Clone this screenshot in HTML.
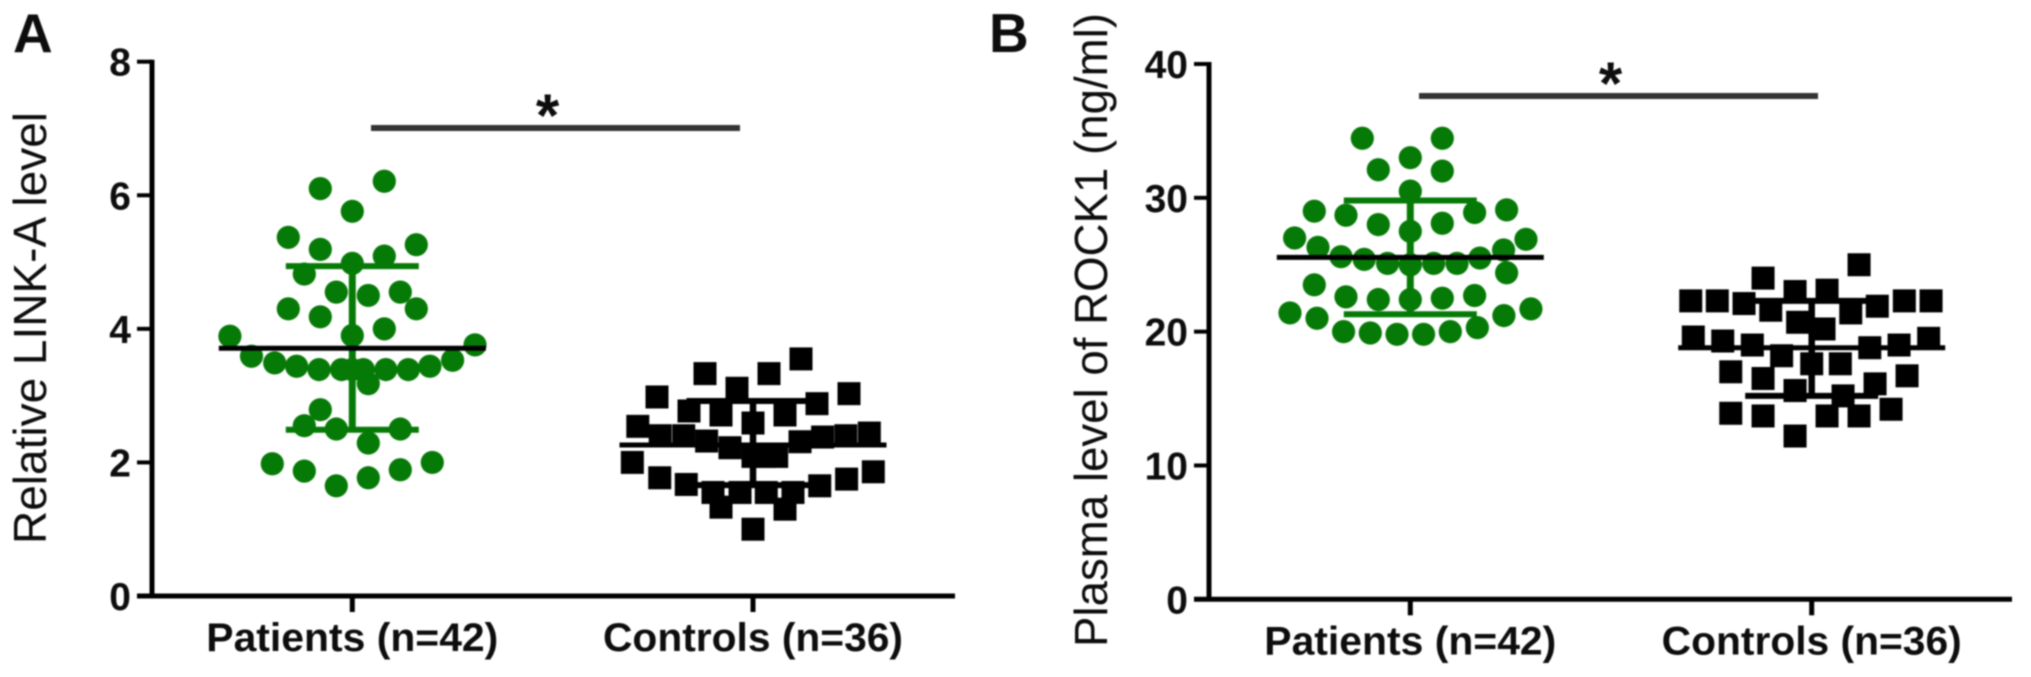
<!DOCTYPE html>
<html lang="en">
<head>
<meta charset="utf-8">
<title>LINK-A and ROCK1 levels in patients and controls</title>
<style>
html,body{margin:0;padding:0;background:#fff;width:2031px;height:677px;overflow:hidden}
svg{display:block;filter:blur(0.7px)}
text{font-family:"Liberation Sans",sans-serif;fill:#0d0d0d}
</style>
</head>
<body>
<svg id="figure" xmlns="http://www.w3.org/2000/svg" width="2031" height="677" viewBox="0 0 2031 677">
<rect x="0" y="0" width="2031" height="677" fill="#fff"/>
</svg>
<script>
// ---- Panel A data ----
const categoriesA = ['Patients (n=42)', 'Controls (n=36)'];
const ticksA = [0, 2, 4, 6, 8];
const patientsValuesA = [6.10,6.21,5.76,5.37,5.26,5.19,5.09,4.98,4.82,4.55,4.50,4.55,4.30,4.30,4.18,4.00,3.90,3.89,3.76,3.59,3.49,3.44,3.39,3.39,3.39,3.39,3.39,3.39,3.44,3.53,3.18,2.79,2.55,2.50,2.50,2.29,1.98,1.87,1.65,1.77,1.89,2.00];
const patientsSwarmA = [-2,2,0,-4,4,-2,2,0,-3,-1,1,3,-4,4,-2,2,0,-7.65,7.67,-6.3,-4.85,-3.48,-2.08,-0.67,0,0.69,2.1,3.5,4.85,6.27,1,-2,-3,-1,3,1,-5,-3,-1,1,3,5];
const controlsValuesA = [3.55,3.33,3.33,3.11,3.03,2.98,2.88,2.77,2.71,2.71,2.59,2.54,2.40,2.40,2.32,2.22,2.44,2.40,2.38,2.31,2.09,2.09,2.09,2.00,1.77,1.67,1.55,1.55,1.55,1.55,1.65,1.75,1.86,1.33,1.30,1.00];
const controlsSwarmA = [3,-3,1,-1,6,-6,4,-4,-2,2,0,-7.2,-5.8,-4.33,-2.9,-1.44,7.27,5.8,4.35,2.94,0,0.75,1.48,-7.54,-5.83,-4.17,-2.5,-0.81,0.83,2.5,4.17,5.85,7.52,-2,2,0];
const patientsSummaryA = [3.71, 4.94, 2.49]; // mean, upper, lower
const controlsSummaryA = [2.26, 2.92, 1.66];

// ---- Panel B data ----
const categoriesB = ['Patients (n=42)', 'Controls (n=36)'];
const ticksB = [0, 10, 20, 30, 40];
const patientsValuesB = [34.45,34.45,33.0,32.1,32.0,30.5,29.0,29.1,28.7,28.9,28.0,28.1,27.5,27.0,26.9,26.3,26.1,25.6,25.4,25.1,25.0,25.0,25.1,25.1,25.5,24.4,23.5,22.6,22.4,22.4,22.5,22.7,21.4,21.0,21.2,21.7,20.0,19.9,19.8,19.8,20.0,20.3];
const patientsSwarmB = [-3,2,0,-2,2,0,-6,6.02,-4.02,4.02,-2,2,0,-7.23,7.23,-5.77,5.83,-4.33,-2.88,-1.42,0,0,1.46,2.92,4.35,6.02,-6,-4.02,-2,0,2,4.02,-7.52,-5.83,5.85,7.54,-4.17,-2.5,-0.83,0.83,2.5,4.19];
const controlsValuesB = [25.0,24.0,23.0,23.1,22.3,22.3,22.1,21.6,22.3,22.3,21.9,21.4,20.7,20.2,19.6,19.3,19.0,19.5,19.0,18.8,18.2,17.6,17.6,17.0,16.5,16.7,16.1,15.6,15.6,15.2,13.9,13.7,13.7,13.7,14.2,12.2];
const controlsSwarmB = [2.96,-3.04,-1.04,0.96,-7.56,-5.9,-4.23,-2.56,5.79,7.46,4.1,2.44,-0.88,0.77,-7.4,-5.56,-3.71,7.31,5.46,3.63,-1.88,0,1.79,-5.06,-3.04,5.96,3.96,-1.04,-1.04,1.96,-5.06,-3.04,0.96,2.96,4.96,-1.04];
const patientsSummaryB = [25.55, 29.8, 21.3];
const controlsSummaryB = [18.8, 22.3, 15.2];

const SVG_NS = 'http://www.w3.org/2000/svg';
const root = document.getElementById('figure');

function make(tag, attrs, text) {
  const el = document.createElementNS(SVG_NS, tag);
  for (const k in attrs) el.setAttribute(k, attrs[k]);
  if (text !== undefined) el.textContent = text;
  root.appendChild(el);
  return el;
}

function drawPanel(cfg) {
  const yScale = v => cfg.y0 - (v - cfg.min) * (cfg.y0 - cfg.yTop) / (cfg.max - cfg.min);
  const xScale = i => cfg.cx[i];
  const pre = cfg.prefix;

  // panel letter
  const letter = make('text', {x: cfg.letterX, y: 52, 'font-size': 55, 'font-weight': 'bold'}, cfg.letter);
  
  

  // y title
  const title = make('text', {
    transform: 'translate(' + cfg.titleX + ',' + cfg.titleY + ') rotate(-90)',
    'text-anchor': 'middle', 'font-size': 46,
    textLength: cfg.titleLen, lengthAdjust: 'spacingAndGlyphs'
  }, cfg.title);
  
  

  // data marks
  const drawSeries = (values, swarm, idx, seriesName) => {
    values.forEach((v, i) => {
      const px = xScale(idx) + swarm[i] * 16;
      const py = yScale(v);
      let mark;
      if (idx === 0) {
        mark = make('circle', {cx: px, cy: py, r: 11.6, fill: '#067a06'});
      } else {
        mark = make('rect', {x: px - 11.5, y: py - 11.5, width: 23, height: 23, fill: '#000'});
      }
      
      
    });
  };
  drawSeries(cfg.values[0], cfg.swarm[0], 0, 'patients');
  drawSeries(cfg.values[1], cfg.swarm[1], 1, 'controls');

  // summary bars: error stem, caps, then mean line
  const drawSummary = (summary, idx, colour, seriesName) => {
    const c = xScale(idx);
    const mean = yScale(summary[0]), up = yScale(summary[1]), lo = yScale(summary[2]);
    const stem = make('line', {x1: c, x2: c, y1: up, y2: lo, stroke: colour, 'stroke-width': idx === 0 ? 7 : 6.5});
    
    
    const capU = make('line', {x1: c - 66.5, x2: c + 66.5, y1: up, y2: up, stroke: colour, 'stroke-width': 6});
    
    
    const capL = make('line', {x1: c - 66.5, x2: c + 66.5, y1: lo, y2: lo, stroke: colour, 'stroke-width': 6});
    
    
    const meanLine = make('line', {x1: c - 133.5, x2: c + 133.5, y1: mean, y2: mean, stroke: '#000', 'stroke-width': 5});
    
    
  };
  drawSummary(cfg.summary[0], 0, '#067a06', 'patients');
  drawSummary(cfg.summary[1], 1, '#000', 'controls');

  // axes
  const yAxis = make('line', {x1: cfg.axisX, x2: cfg.axisX, y1: cfg.yTop - 2, y2: cfg.y0 + 2, stroke: '#000', 'stroke-width': 5});
  
  
  const xAxis = make('line', {x1: cfg.axisX - 15, x2: cfg.axisEnd, y1: cfg.y0, y2: cfg.y0, stroke: '#000', 'stroke-width': 5});
  
  

  cfg.ticks.forEach(t => {
    const py = yScale(t);
    const tick = make('line', {x1: cfg.axisX - 15, x2: cfg.axisX, y1: py, y2: py, stroke: '#000', 'stroke-width': 4});
    
    
    const label = make('text', {x: cfg.axisX - 21, y: py + 14, 'text-anchor': 'end', 'font-size': 39, 'font-weight': 'bold'}, String(t));
    
    
  });

  cfg.categories.forEach((name, i) => {
    const c = xScale(i);
    const tick = make('line', {x1: c, x2: c, y1: cfg.y0, y2: cfg.y0 + 16, stroke: '#000', 'stroke-width': 5});
    
    
    const label = make('text', {
      x: c, y: cfg.y0 + 55, 'text-anchor': 'middle', 'font-size': 40, 'font-weight': 'bold',
      textLength: i === 0 ? 292 : 300, lengthAdjust: 'spacingAndGlyphs'
    }, name);
    
    
  });

  // significance
  const sig = make('line', {x1: cfg.sig[0], x2: cfg.sig[1], y1: cfg.sigY, y2: cfg.sigY, stroke: '#333', 'stroke-width': 6});
  
  
  const star = make('text', {x: (cfg.sig[0] + cfg.sig[1]) / 2 - 8, y: cfg.sigY + 8, 'text-anchor': 'middle', 'font-size': 60, 'font-weight': 'bold'}, '*');
  
  
}

drawPanel({
  prefix: 'panel-a', letter: 'A', letterX: 13, title: 'Relative LINK-A level',
  titleX: 46, titleY: 328, titleLen: 432,
  min: 0, max: 8, y0: 596, yTop: 61.7, axisX: 152, axisEnd: 955, cx: [352.3, 753],
  ticks: ticksA, categories: categoriesA,
  values: [patientsValuesA, controlsValuesA], swarm: [patientsSwarmA, controlsSwarmA],
  summary: [patientsSummaryA, controlsSummaryA],
  sig: [371, 740], sigY: 128
});
drawPanel({
  prefix: 'panel-b', letter: 'B', letterX: 989, title: 'Plasma level of ROCK1 (ng/ml)',
  titleX: 1107, titleY: 330, titleLen: 634,
  min: 0, max: 40, y0: 599.3, yTop: 64, axisX: 1209, axisEnd: 2012, cx: [1410.3, 1811.7],
  ticks: ticksB, categories: categoriesB,
  values: [patientsValuesB, controlsValuesB], swarm: [patientsSwarmB, controlsSwarmB],
  summary: [patientsSummaryB, controlsSummaryB],
  sig: [1419, 1818], sigY: 96
});
</script>
</body>
</html>
